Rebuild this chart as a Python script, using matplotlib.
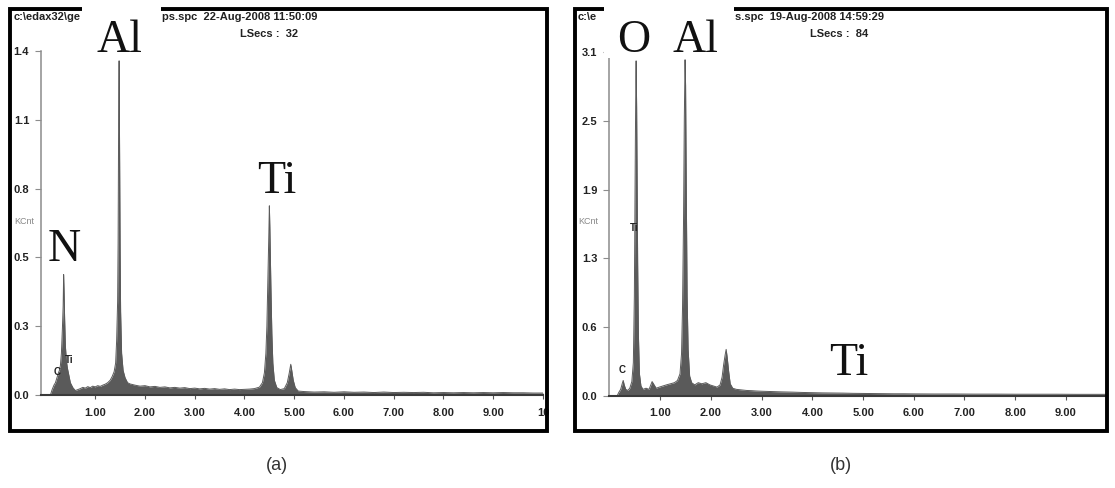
import numpy as np
import matplotlib
matplotlib.use("Agg")
import matplotlib.pyplot as plt
from matplotlib.patches import Rectangle

# ---- spectrum (a): energy (keV) and counts (KCnt)
left_keV = [0.10, 0.13, 0.17, 0.20, 0.23, 0.26, 0.28, 0.30, 0.32, 0.34,
            0.355, 0.365, 0.375, 0.385, 0.40, 0.42, 0.44, 0.46, 0.50, 0.55,
            0.60, 0.65, 0.70, 0.75, 0.80, 0.85, 0.90, 0.95, 1.00, 1.05,
            1.10, 1.15, 1.20, 1.25, 1.30, 1.34, 1.38, 1.41, 1.43, 1.45,
            1.46, 1.47, 1.48, 1.49, 1.50, 1.51, 1.53, 1.56, 1.60, 1.65,
            1.70, 1.80, 1.90, 2.00, 2.10, 2.20, 2.30, 2.40, 2.50, 2.60,
            2.70, 2.80, 2.90, 3.00, 3.10, 3.20, 3.30, 3.40, 3.50, 3.60,
            3.70, 3.80, 3.90, 4.00, 4.10, 4.20, 4.30, 4.36, 4.40, 4.43,
            4.45, 4.47, 4.49, 4.50, 4.51, 4.53, 4.55, 4.57, 4.60, 4.65,
            4.72, 4.80, 4.86, 4.90, 4.93, 4.95, 4.98, 5.02, 5.08, 5.20,
            5.40, 5.60, 5.80, 6.00, 6.20, 6.40, 6.60, 6.80, 7.00, 7.20,
            7.40, 7.60, 7.80, 8.00, 8.20, 8.40, 8.60, 8.80, 9.00, 9.20,
            9.40, 9.60, 9.80, 10.0]
left_kcnt = [0.00, 0.02, 0.04, 0.05, 0.07, 0.09, 0.10, 0.12, 0.17, 0.27,
             0.36, 0.49, 0.41, 0.31, 0.20, 0.14, 0.11, 0.09, 0.05, 0.03,
             0.018, 0.022, 0.026, 0.031, 0.028, 0.034, 0.030, 0.036, 0.033, 0.038,
             0.035, 0.040, 0.044, 0.050, 0.060, 0.075, 0.095, 0.13, 0.22, 0.38,
             0.62, 1.10, 1.36, 0.98, 0.60, 0.34, 0.17, 0.10, 0.07, 0.05,
             0.045, 0.040, 0.036, 0.038, 0.033, 0.035, 0.031, 0.033, 0.029, 0.031,
             0.028, 0.030, 0.026, 0.028, 0.025, 0.027, 0.024, 0.026, 0.023, 0.025,
             0.022, 0.024, 0.022, 0.023, 0.024, 0.026, 0.032, 0.05, 0.09, 0.17,
             0.28, 0.47, 0.66, 0.77, 0.68, 0.45, 0.25, 0.13, 0.06, 0.03,
             0.022, 0.026, 0.05, 0.09, 0.125, 0.10, 0.06, 0.03, 0.016, 0.014,
             0.012, 0.013, 0.011, 0.013, 0.011, 0.012, 0.010, 0.012, 0.010, 0.011,
             0.010, 0.011, 0.009, 0.010, 0.009, 0.010, 0.009, 0.010, 0.009, 0.010,
             0.009, 0.009, 0.008, 0.008]

# ---- spectrum (b)
right_keV = [0.15, 0.18, 0.22, 0.25, 0.27, 0.29, 0.32, 0.36, 0.40, 0.44,
             0.47, 0.49, 0.50, 0.51, 0.52, 0.525, 0.535, 0.545, 0.555, 0.57,
             0.59, 0.62, 0.66, 0.72, 0.78, 0.84, 0.88, 0.92, 0.98, 1.05,
             1.12, 1.20, 1.28, 1.34, 1.39, 1.42, 1.44, 1.46, 1.475, 1.49,
             1.50, 1.515, 1.53, 1.55, 1.58, 1.62, 1.68, 1.75, 1.82, 1.90,
             1.98, 2.05, 2.12, 2.18, 2.22, 2.25, 2.28, 2.30, 2.32, 2.35,
             2.38, 2.43, 2.50, 2.60, 2.70, 2.80, 2.90, 3.00, 3.20, 3.40,
             3.60, 3.80, 4.00, 4.20, 4.40, 4.60, 4.80, 5.00, 5.20, 5.40,
             5.60, 5.80, 6.00, 6.40, 6.80, 7.20, 7.60, 8.00, 8.40, 8.80,
             9.20, 9.60, 9.80]
right_kcnt = [0.00, 0.03, 0.06, 0.11, 0.14, 0.10, 0.06, 0.05, 0.07, 0.13,
              0.30, 0.90, 1.60, 2.30, 2.85, 3.02, 2.60, 1.90, 1.20, 0.55,
              0.20, 0.09, 0.06, 0.07, 0.06, 0.13, 0.10, 0.07, 0.08, 0.09,
              0.10, 0.11, 0.12, 0.14, 0.20, 0.38, 0.80, 1.60, 2.50, 3.03,
              2.80, 1.80, 0.90, 0.42, 0.18, 0.12, 0.10, 0.12, 0.11, 0.12,
              0.10, 0.09, 0.08, 0.10, 0.17, 0.28, 0.37, 0.42, 0.35, 0.22,
              0.11, 0.07, 0.06, 0.055, 0.05, 0.048, 0.045, 0.043, 0.040, 0.037,
              0.035, 0.032, 0.030, 0.028, 0.027, 0.026, 0.024, 0.023, 0.022, 0.021,
              0.020, 0.020, 0.019, 0.018, 0.018, 0.017, 0.017, 0.016, 0.016, 0.016,
              0.015, 0.015, 0.015]

assert len(left_keV) == len(left_kcnt)
assert len(right_keV) == len(right_kcnt)

x_ticks = [1, 2, 3, 4, 5, 6, 7, 8, 9, 10]
x_labels = ["1.00", "2.00", "3.00", "4.00", "5.00", "6.00", "7.00", "8.00", "9.00", "10"]
left_yticks = [0.0, 0.28, 0.56, 0.84, 1.12, 1.40]
left_ylabels = ["0.0", "0.3", "0.5", "0.8", "1.1", "1.4"]
right_yticks = [0.0, 0.62, 1.24, 1.86, 2.48, 3.10]
right_ylabels = ["0.0", "0.6", "1.3", "1.9", "2.5", "3.1"]

W, H = 1115, 488
fig = plt.figure(figsize=(W / 100, H / 100), dpi=100)
fig.patch.set_facecolor("white")


def fx(x):
    return x / W


def fy(y):
    return 1 - y / H


def panel(x0, x1, ytop, ybot, xlim, ylim, keV, kcnt, yticks, ylabels, spine_top):
    ax = fig.add_axes([fx(x0), fy(ybot), (x1 - x0) / W, (ybot - ytop) / H])
    ax.fill_between(keV, 0, kcnt, color="#5a5a5a", lw=0)
    ax.plot(keV, kcnt, color="#5a5a5a", lw=0.7)
    ax.set_xlim(*xlim)
    ax.set_ylim(*ylim)
    for s in ["top", "right"]:
        ax.spines[s].set_visible(False)
    ax.spines["left"].set_color("#8c8c8c")
    ax.spines["left"].set_linewidth(1.1)
    ax.spines["left"].set_bounds(0, spine_top)
    ax.spines["bottom"].set_color("#3a3a3a")
    ax.spines["bottom"].set_linewidth(1.5)
    ax.set_xticks([t for t in x_ticks if t <= xlim[1]])
    ax.set_xticklabels(x_labels[:len(ax.get_xticks())])
    ax.set_yticks(yticks)
    ax.set_yticklabels(ylabels)
    ax.tick_params(axis="x", length=3, width=0.8, color="#555555", pad=6,
                   labelsize=8, labelcolor="#222222")
    ax.tick_params(axis="y", length=4.5, width=0.8, color="#8c8c8c", pad=4,
                   labelsize=8, labelcolor="#222222")
    for lab in ax.get_xticklabels() + ax.get_yticklabels():
        lab.set_fontweight("bold")
        lab.set_family("Liberation Sans")
    ax.patch.set_alpha(0)
    return ax


axa = panel(41, 543, 51, 395, (-0.09, 10.0), (0, 1.4), left_keV, left_kcnt,
            left_yticks, left_ylabels, 1.4)
axb = panel(609, 1107, 52, 396, (-0.01, 9.81), (0, 3.1), right_keV, right_kcnt,
            right_yticks, right_ylabels, 3.07)

# outer frames
for x0, x1 in [(10, 547), (575, 1107)]:
    fig.patches.append(Rectangle((fx(x0), fy(431)), (x1 - x0) / W, (431 - 9) / H,
                                 transform=fig.transFigure, fill=False,
                                 ec="black", lw=2.8, zorder=2))

# white boxes behind the big element labels (they hide the frame and header)
for (x0, y0, x1, y1) in [(82, 0, 161, 58), (604, 0, 734, 58), (42, 222, 86, 270)]:
    fig.patches.append(Rectangle((fx(x0), fy(y1)), (x1 - x0) / W, (y1 - y0) / H,
                                 transform=fig.transFigure, fc="white", ec="none",
                                 zorder=3))

hdr = dict(fontsize=8, fontweight="bold", color="#222222", family="Liberation Sans",
           va="baseline", zorder=2)
fig.text(fx(14), fy(20), "c:\\edax32\\ge", ha="left", **hdr)
fig.text(fx(162), fy(20), "ps.spc  22-Aug-2008 11:50:09", ha="left", **hdr)
fig.text(fx(240), fy(37), "LSecs :  32", ha="left", **hdr)
fig.text(fx(578), fy(20), "c:\\e", ha="left", **hdr)
fig.text(fx(735), fy(20), "s.spc  19-Aug-2008 14:59:29", ha="left", **hdr)
fig.text(fx(810), fy(37), "LSecs :  84", ha="left", **hdr)

kc = dict(fontsize=6.5, color="#888888", family="Liberation Sans", va="center", ha="left")
fig.text(fx(14), fy(222), "KCnt", zorder=4, **kc)
fig.text(fx(578), fy(222), "KCnt", zorder=4, **kc)

big = dict(fontsize=33, family="Liberation Serif", color="#111111", ha="center",
           va="baseline", zorder=5)
fig.text(fx(119), fy(52), "Al", **big)
fig.text(fx(277), fy(193), "Ti", **big)
fig.text(fx(64), fy(261), "N", **big)
fig.text(fx(634), fy(52), "O", **big)
fig.text(fx(695), fy(52), "Al", **big)
fig.text(fx(849), fy(375), "Ti", **big)

small = dict(fontsize=7, fontweight="bold", color="#222222", family="Liberation Sans",
             ha="center", va="center", zorder=5)
fig.text(fx(57), fy(372), "C", **small)
fig.text(fx(69), fy(360), "Ti", **small)
fig.text(fx(622), fy(370), "C", **small)
fig.text(fx(634), fy(228), "Ti", **small)

cap = dict(fontsize=13, color="#333333", family="Liberation Sans", ha="center", va="center")
fig.text(fx(277), fy(466), "(a)", **cap)
fig.text(fx(841), fy(466), "(b)", **cap)

fig.savefig("out.png", dpi=100)
